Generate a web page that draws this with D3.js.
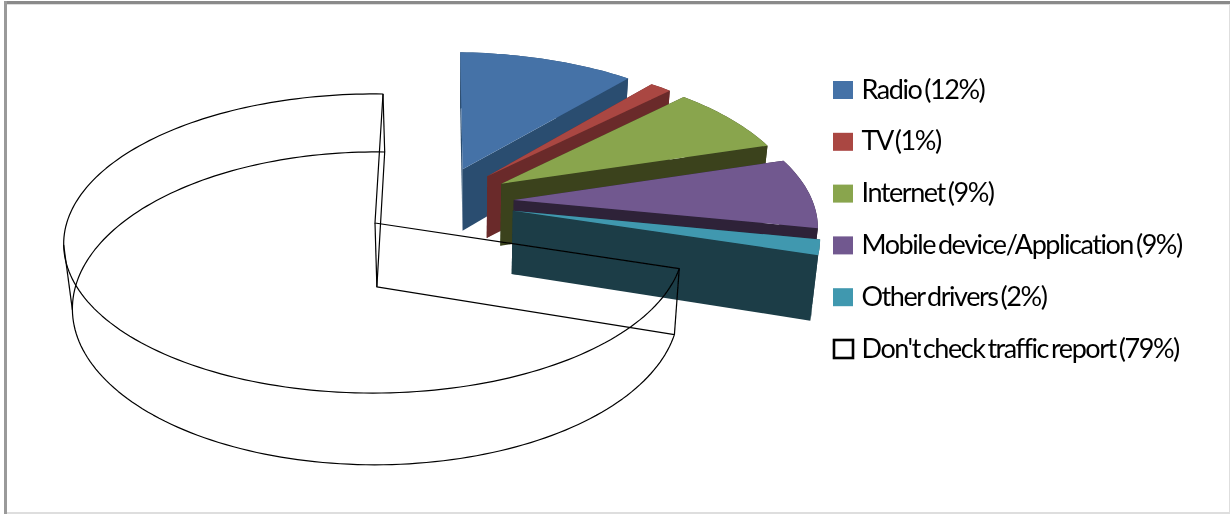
<!DOCTYPE html>
<html>
<head>
<meta charset="utf-8">
<script src="https://cdn.jsdelivr.net/npm/d3@7"></script>
<style>
html, body { margin: 0; padding: 0; background: #fff; overflow: hidden; }
svg { display: block; }
</style>
</head>
<body>
<svg></svg>
<script>
var categories = ["Radio", "TV", "Internet", "Mobile device/Application", "Other drivers", "Don't check traffic report"];
// what the legend says
var percents = [12, 1, 9, 9, 2, 79];
// slice sizes
var drawnShares = [12.2, 1.5, 8.5, 8.8, 1.9, 79];
var topColors = ["#4572a7", "#aa4643", "#89a54e", "#71588f", "#4198af", "none"];
var sideColors = ["#2b4d70", "#6b2c2a", "#3a421d", "#2d2238", "#1b3c46", "none"];

var width = 1230;
var height = 514;

var svg = d3.select("svg")
  .attr("width", width)
  .attr("height", height);

svg.append("filter")
  .attr("id", "soft")
  .attr("filterUnits", "userSpaceOnUse")
  .attr("x", 0).attr("y", 0).attr("width", width).attr("height", height)
  .append("feGaussianBlur")
  .attr("stdDeviation", 0.45);

// frame
svg.append("rect").attr("x", 4).attr("y", 1).attr("width", width - 4).attr("height", 3).attr("fill", "#8a8a8a");
svg.append("rect").attr("x", 4).attr("y", 1).attr("width", 3).attr("height", height).attr("fill", "#9a9a9a");
svg.append("rect").attr("x", 7).attr("y", 4).attr("width", width - 7).attr("height", 1).attr("fill", "#dddddd");
svg.append("rect").attr("x", 7).attr("y", 512).attr("width", width - 7).attr("height", 2).attr("fill", "#dedede");
svg.append("rect").attr("x", width - 1).attr("y", 4).attr("width", 1).attr("height", height).attr("fill", "#dedede");

var pie = d3.pie().sort(null).value(function(d) { return d; }).startAngle(0).endAngle(2 * Math.PI);
var slices = pie(drawnShares);

// how far each slice is pulled out from the middle (pie radius = 1)
var explode = 0.255;

function midAngle(s) { return (s.startAngle + s.endAngle) / 2; }

var whiteMid = midAngle(slices[5]);
var shiftU = explode * Math.sin(whiteMid);
var shiftV = explode * Math.cos(whiteMid);

// perspective of the pie plane, anchored on the apex of the white slice
function project(u, v, lower) {
  var uu = u - shiftU;
  var vv = v - shiftV;
  var w = 1 + 0.137 * vv;
  var x = 375 + (307 * uu + 9.1 * vv) / w;
  var y = 223 + (4 * uu - 146.7 * vv) / w;
  if (lower) {
    x = 460 + (x - 460) * 0.978;
    y = 152 + (y - 94) * 1.046;
  }
  return [x, y];
}

function apexOf(s, lower) {
  var m = midAngle(s);
  return project(explode * Math.sin(m), explode * Math.cos(m), lower);
}

function rimOf(s, angle, lower) {
  var m = midAngle(s);
  return project(explode * Math.sin(m) + Math.sin(angle), explode * Math.cos(m) + Math.cos(angle), lower);
}

function rimPoints(s, lower) {
  var n = Math.max(4, Math.ceil((s.endAngle - s.startAngle) * 40));
  return d3.range(n + 1).map(function(i) {
    return rimOf(s, s.startAngle + (s.endAngle - s.startAngle) * i / n, lower);
  });
}

var line = d3.line();
function polygon(pts) { return line(pts) + "Z"; }

var pieGroup = svg.append("g").attr("filter", "url(#soft)");

// coloured slices, back to front
var colored = pieGroup.selectAll("g.slice")
  .data(slices.slice(0, 5))
  .enter()
  .append("g")
  .attr("class", "slice");

colored.append("path")
  .attr("d", function(d) {
    return polygon([apexOf(d), rimOf(d, d.startAngle), rimOf(d, d.startAngle, true), apexOf(d, true)]);
  })
  .attr("fill", function(d) { return sideColors[d.index]; });

colored.append("path")
  .attr("d", function(d) {
    return polygon(rimPoints(d).concat(rimPoints(d, true).reverse()));
  })
  .attr("fill", function(d) { return sideColors[d.index]; });

colored.append("path")
  .attr("d", function(d) {
    return polygon([apexOf(d), rimOf(d, d.endAngle), rimOf(d, d.endAngle, true), apexOf(d, true)]);
  })
  .attr("fill", function(d) { return sideColors[d.index]; });

colored.append("path")
  .attr("d", function(d) {
    return polygon([apexOf(d)].concat(rimPoints(d)));
  })
  .attr("fill", function(d) { return topColors[d.index]; });

// the last slice is only an outline
var whiteSlice = slices[5];
var wire = pieGroup.append("g")
  .attr("fill", "none")
  .attr("stroke", "#000")
  .attr("stroke-width", 1.2)
  .attr("stroke-linejoin", "round");

wire.append("path").attr("d", polygon([apexOf(whiteSlice)].concat(rimPoints(whiteSlice))));
wire.append("path").attr("d", polygon([apexOf(whiteSlice, true)].concat(rimPoints(whiteSlice, true))));
wire.append("path").attr("d", line([apexOf(whiteSlice), apexOf(whiteSlice, true)]));
wire.append("path").attr("d", line([rimOf(whiteSlice, whiteSlice.startAngle), rimOf(whiteSlice, whiteSlice.startAngle, true)]));
wire.append("path").attr("d", line([rimOf(whiteSlice, whiteSlice.endAngle), rimOf(whiteSlice, whiteSlice.endAngle, true)]));

// left silhouette of the wall
var leftIndex = d3.leastIndex(rimPoints(whiteSlice), function(a, b) { return a[0] - b[0]; });
wire.append("path").attr("d", line([rimPoints(whiteSlice)[leftIndex], rimPoints(whiteSlice, true)[leftIndex]]));

// legend
var legendY = d3.scalePoint().domain(categories).range([90, 349]);

var legend = svg.append("g").attr("filter", "url(#soft)")
  .selectAll("g.legend")
  .data(categories)
  .enter()
  .append("g")
  .attr("class", "legend")
  .attr("transform", function(d) { return "translate(833," + legendY(d) + ")"; });

legend.append("rect")
  .attr("x", function(d, i) { return i == 5 ? 1 : 0; })
  .attr("y", -9)
  .attr("width", function(d, i) { return i == 5 ? 19 : 20; })
  .attr("height", 18)
  .attr("fill", function(d, i) { return i == 5 ? "none" : topColors[i]; })
  .attr("stroke", function(d, i) { return i == 5 ? "#000" : "none"; })
  .attr("stroke-width", 2.6);

legend.append("text")
  .text(function(d, i) { return d + " (" + percents[i] + "%)"; })
  .attr("x", 28.5)
  .attr("y", 8.5)
  .attr("font-family", "Lato, sans-serif")
  .attr("font-size", "27px")
  .attr("letter-spacing", "-1.45px")
  .attr("word-spacing", "-2.5px")
  .attr("fill", "#000");
</script>
</body>
</html>
